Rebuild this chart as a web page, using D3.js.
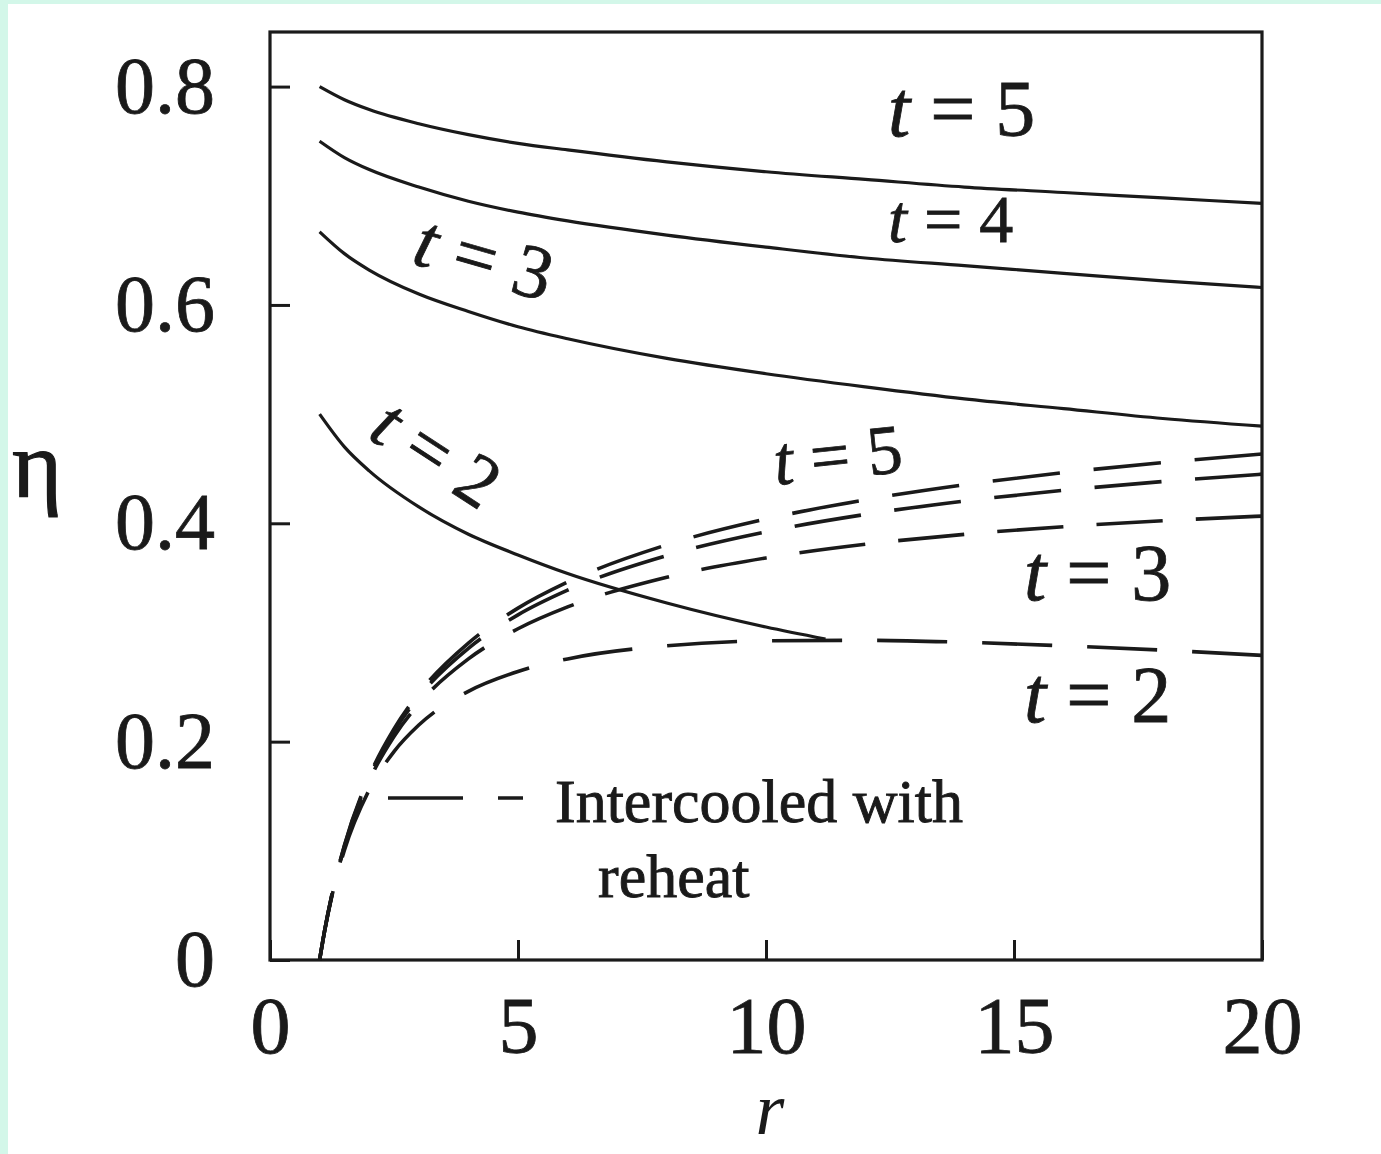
<!DOCTYPE html>
<html>
<head>
<meta charset="utf-8">
<script src="https://cdn.jsdelivr.net/npm/d3@7"></script>
<style>
  html, body { margin: 0; padding: 0; background: #d3f7e9; }
  svg { display: block; }
</style>
</head>
<body>
<svg id="chart" width="1381" height="1154"></svg>
<script>
// ---------- data ----------
const xTicks = [0, 5, 10, 15, 20];
const yTicks = [0, 0.2, 0.4, 0.6, 0.8];
const yTickLabels = ["0", "0.2", "0.4", "0.6", "0.8"];

// solid curves (regenerative)
const rSolid = [1, 1.5, 2, 3, 4, 5, 6, 8, 10, 12, 14, 16, 18, 20];
const etaSolidT5 = [0.800, 0.788, 0.779, 0.766, 0.756, 0.748, 0.742, 0.731, 0.722, 0.715, 0.708, 0.703, 0.698, 0.693];
const etaSolidT4 = [0.750, 0.735, 0.724, 0.708, 0.695, 0.685, 0.677, 0.664, 0.653, 0.643, 0.636, 0.629, 0.622, 0.616];
const etaSolidT3 = [0.667, 0.647, 0.632, 0.610, 0.594, 0.580, 0.569, 0.551, 0.537, 0.525, 0.514, 0.505, 0.496, 0.489];
const rSolidT2 = [1, 1.5, 2, 3, 4, 5, 6, 8, 10, 11.2];
const etaSolidT2 = [0.500, 0.470, 0.448, 0.415, 0.390, 0.371, 0.354, 0.327, 0.305, 0.294];

// dashed curves (intercooled with reheat)
const rDashed = [1, 1.1, 1.25, 1.5, 2, 2.5, 3, 4, 5, 6, 8, 10, 12, 14, 16, 18, 20];
const etaDashT5 = [0, 0.0266, 0.0604, 0.1050, 0.1682, 0.2117, 0.2442, 0.2903, 0.3223, 0.3462, 0.3803, 0.4039, 0.4215, 0.4353, 0.4464, 0.4556, 0.4634];
const etaDashT4 = [0, 0.0266, 0.0602, 0.1045, 0.1668, 0.2094, 0.2410, 0.2855, 0.3161, 0.3387, 0.3705, 0.3922, 0.4081, 0.4204, 0.4302, 0.4383, 0.4450];
const etaDashT3 = [0, 0.0265, 0.0599, 0.1035, 0.1641, 0.2048, 0.2346, 0.2758, 0.3034, 0.3234, 0.3506, 0.3683, 0.3808, 0.3899, 0.3969, 0.4023, 0.4066];
const etaDashT2 = [0, 0.0263, 0.0589, 0.1005, 0.1558, 0.1909, 0.2152, 0.2461, 0.2643, 0.2758, 0.2878, 0.2923, 0.2928, 0.2910, 0.2878, 0.2838, 0.2790];

// ---------- layout ----------
const svg = d3.select("#chart");
const W = 1381, H = 1154;
const plot = { left: 270, right: 1262, top: 32, bottom: 960 };
const INK = "#1a1a1a";
const FONT = "'Liberation Serif', 'Times New Roman', serif";

svg.append("rect").attr("x", 8).attr("y", 4).attr("width", W - 8).attr("height", H - 4).attr("fill", "#ffffff");

const x = d3.scaleLinear().domain([0, 20]).range([plot.left, plot.right]);
const y = d3.scaleLinear().domain([0, 0.85]).range([plot.bottom, plot.top]);

// axes
const gx = svg.append("g").attr("transform", `translate(0,${plot.bottom})`)
  .call(d3.axisBottom(x).tickValues(xTicks).tickSizeInner(-20).tickSizeOuter(0).tickPadding(36).tickFormat(d3.format("d")));
const gy = svg.append("g").attr("transform", `translate(${plot.left},0)`)
  .call(d3.axisLeft(y).tickValues(yTicks).tickSizeInner(-20).tickSizeOuter(0).tickPadding(55)
    .tickFormat((d, i) => yTickLabels[i]));
[gx, gy].forEach(g => {
  g.select(".domain").remove();
  g.selectAll(".tick line").attr("stroke", INK).attr("stroke-width", 3);
  g.selectAll(".tick text").attr("fill", INK).attr("font-family", FONT).attr("font-size", 80)
    .attr("stroke", INK).attr("stroke-width", 0.8);
});

// frame
svg.append("rect").attr("x", plot.left).attr("y", plot.top)
  .attr("width", plot.right - plot.left).attr("height", plot.bottom - plot.top)
  .attr("fill", "none").attr("stroke", INK).attr("stroke-width", 3.2);

// lines
const line = d3.line().x(d => x(d[0])).y(d => y(d[1])).curve(d3.curveMonotoneX);
const zip = (rs, es) => rs.map((r, i) => [r, es[i]]);

const DASH = 68, GAP = 34;
const dashed = [etaDashT2, etaDashT3, etaDashT4, etaDashT5];
dashed.forEach(es => {
  const p = svg.append("path").attr("d", line(zip(rDashed, es)))
    .attr("fill", "none").attr("stroke", INK).attr("stroke-width", 3.6);
  // fit the dash pattern so that both ends finish on a dash
  const L = p.node().getTotalLength();
  const n = Math.max(1, Math.round((L - DASH) / (DASH + GAP)));
  const s = L / (n * (DASH + GAP) + DASH);
  p.attr("stroke-dasharray", `${DASH * s},${GAP * s}`);
});

const solid = [[rSolid, etaSolidT5], [rSolid, etaSolidT4], [rSolid, etaSolidT3], [rSolidT2, etaSolidT2]];
solid.forEach(([rs, es]) => {
  svg.append("path").attr("d", line(zip(rs, es)))
    .attr("fill", "none").attr("stroke", INK).attr("stroke-width", 3.2);
});

// curve labels: "t = n"
function tLabel(px, py, size, angle, n) {
  const t = svg.append("text")
    .attr("transform", `translate(${px},${py}) rotate(${angle})`)
    .attr("font-family", FONT).attr("font-size", size).attr("fill", INK)
    .attr("stroke", INK).attr("stroke-width", 0.8);
  t.append("tspan").attr("font-style", "italic").text("t");
  t.append("tspan").attr("xml:space", "preserve").text(" = " + n);
}
tLabel(888, 136, 80, 0, 5);
tLabel(888, 242, 68, 0, 4);
tLabel(410, 263, 76, 16, 3);
tLabel(366, 437, 74, 33, 2);
tLabel(776, 485, 70, -6, 5);
tLabel(1024, 600, 80, 0, 3);
tLabel(1024, 722, 80, 0, 2);

// legend sample + text
svg.append("line").attr("x1", 388).attr("x2", 523).attr("y1", 798).attr("y2", 798)
  .attr("stroke", INK).attr("stroke-width", 3.6).attr("stroke-dasharray", "75,35,25");
svg.append("text").attr("x", 555).attr("y", 822)
  .attr("font-family", FONT).attr("font-size", 62).attr("fill", INK)
  .attr("stroke", INK).attr("stroke-width", 0.9).text("Intercooled with");
svg.append("text").attr("x", 598).attr("y", 897)
  .attr("font-family", FONT).attr("font-size", 62).attr("fill", INK)
  .attr("stroke", INK).attr("stroke-width", 0.9).text("reheat");

// axis titles
svg.append("text").attr("x", 12).attr("y", 497)
  .attr("font-family", FONT).attr("font-size", 96).attr("fill", INK)
  .attr("stroke", INK).attr("stroke-width", 1.2).text("η");
svg.append("text").attr("x", 770).attr("y", 1134).attr("text-anchor", "middle")
  .attr("font-family", FONT).attr("font-style", "italic").attr("font-size", 74).attr("fill", INK).text("r");
</script>
</body>
</html>
